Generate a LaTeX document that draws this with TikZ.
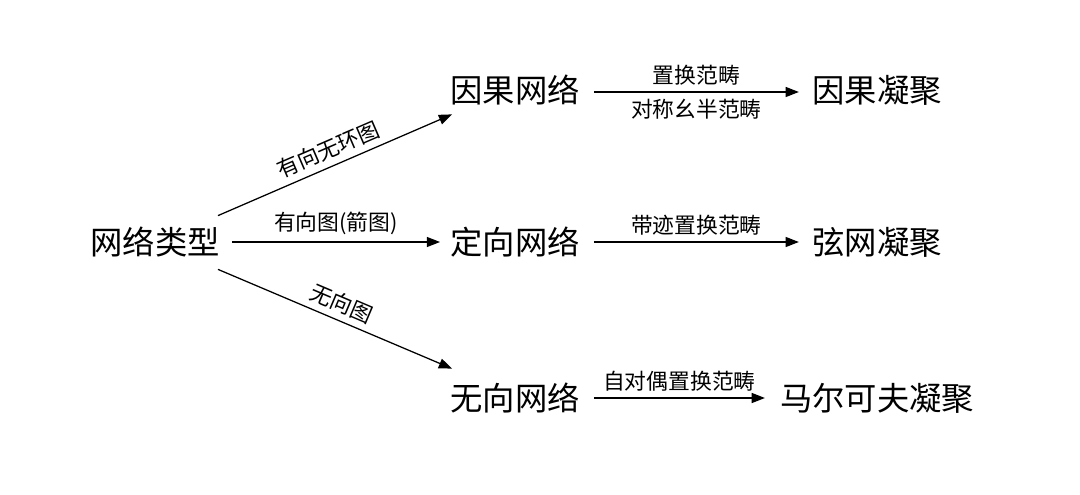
\documentclass[tikz,border=0pt]{standalone}
\usepackage{fontspec}
\setmainfont{Noto Sans CJK SC}
\usetikzlibrary{positioning,arrows.meta,calc}
\tikzset{
  term/.style={inner sep=0pt, font=\fontsize{23pt}{25pt}\selectfont},
  lab/.style={font=\fontsize{15.5pt}{17pt}\selectfont, inner sep=4.5pt},
  flow/.style={-{Triangle[length=3.3mm,width=2.5mm]}, line width=0.9pt}
}
\begin{document}
\begin{tikzpicture}
\useasboundingbox (0,0) rectangle (27,12.35);
\node[term] (type) at (3.875,6.3) {网络类型};
\node[term] (causal) at (12.875,10.1) {因果网络};
\node[term] (direct) at (12.875,6.3) {定向网络};
\node[term] (undir) at (12.875,2.4) {无向网络};
\node[term] (cconds) at (21.925,10.1) {因果凝聚};
\node[term] (sconds) at (21.925,6.3) {弦网凝聚};
\node[term] (mconds) at (21.925,2.4) {马尔可夫凝聚};
\draw[flow] ([shift={(-0.05,0.275)}]type.north east) -- ([shift={(0.05,-0.225)}]causal.south west)
  node[lab, midway, sloped, above] {有向无环图};
\draw[flow] ([xshift=0.3cm]type.east) -- ([xshift=-0.25cm]direct.west)
  node[lab, midway, above] {有向图(箭图)};
\draw[flow] ([shift={(-0.05,-0.3)}]type.south east) -- ([shift={(0.05,0.35)}]undir.north west)
  node[lab, midway, sloped, above] {无向图};
\draw[flow] ([shift={(0.35,-0.05)}]causal.east) -- ([shift={(-0.33,-0.05)}]cconds.west)
  node[lab, midway, above] {置换范畴} node[lab, midway, below] {对称幺半范畴};
\draw[flow] ([xshift=0.35cm]direct.east) -- ([xshift=-0.33cm]sconds.west)
  node[lab, midway, above] {带迹置换范畴};
\draw[flow] ([xshift=0.35cm]undir.east) -- ([xshift=-0.37cm]mconds.west)
  node[lab, midway, above] {自对偶置换范畴};
\end{tikzpicture}
\end{document}
